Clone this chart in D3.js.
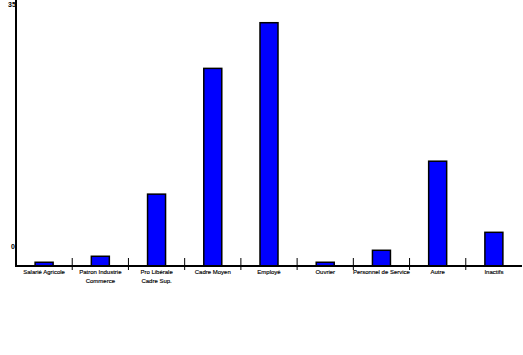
<!DOCTYPE html>
<html><head><meta charset="utf-8">
<script src="https://cdn.jsdelivr.net/npm/d3@7"></script>
<style>body{margin:0;background:#fff}svg{display:block}</style>
</head><body>
<script>
const categories = [["Salarié Agricole"],["Patron Industrie","Commerce"],["Pro Libérale","Cadre Sup."],["Cadre Moyen"],["Employé"],["Ouvrier"],["Personnel de Service"],["Autre"],["Inactifs"]];
const values = [0.5, 1.3, 9.6, 26.4, 32.5, 0.5, 2.1, 14.0, 4.5];
const yTickLabels = ["0", "35"];

(function(){
const W = 523, H = 355;
const svg = d3.select("body").append("svg").attr("width", W).attr("height", H);
const mLeft = 16, mRight = 522, mTop = 4, mBottom = 266;
const x = d3.scaleBand().domain(d3.range(categories.length)).range([mLeft, mRight]).paddingInner(0).paddingOuter(0);
const y = d3.scaleLinear().domain([0, 35]).range([mBottom, mTop]);

svg.selectAll("rect.bar").data(values).join("rect")
  .attr("x", (d,i) => x(i) + x.bandwidth()/2 - 9)
  .attr("width", 18)
  .attr("y", d => y(d))
  .attr("height", d => y(0) - y(d))
  .attr("fill", "#0000ff").attr("stroke", "#000").attr("stroke-width", 1.5);

svg.append("line").attr("x1", mLeft).attr("x2", mLeft).attr("y1", 0).attr("y2", mBottom+1)
  .attr("stroke", "#000").attr("stroke-width", 2);
svg.append("line").attr("x1", mLeft).attr("x2", mRight).attr("y1", mBottom).attr("y2", mBottom)
  .attr("stroke", "#000").attr("stroke-width", 2);

svg.selectAll("line.sep").data(d3.range(1, categories.length)).join("line")
  .attr("x1", i => x(i)).attr("x2", i => x(i))
  .attr("y1", mBottom - 8).attr("y2", mBottom + 4)
  .attr("stroke", "#000").attr("stroke-width", 1);

const lab = svg.selectAll("text.cat").data(categories).join("text")
  .attr("text-anchor", "middle")
  .attr("font-family", "Liberation Sans, Arial, sans-serif")
  .attr("font-size", 6)
  .attr("fill", "#000")
  .attr("stroke", "#000").attr("stroke-width", 0.15);
lab.each(function(lines, i){
  const t = d3.select(this);
  lines.forEach((s, k) => t.append("tspan").attr("x", x(i) + x.bandwidth()/2).attr("y", mBottom + 8 + k*9).text(s));
});

svg.append("text").attr("x", 13).attr("y", 249).attr("text-anchor", "middle")
  .attr("font-family", "Liberation Sans, Arial, sans-serif").attr("font-size", 7).attr("font-weight", "bold").text(yTickLabels[0]);
svg.append("text").attr("x", 12).attr("y", 7).attr("text-anchor", "middle")
  .attr("font-family", "Liberation Sans, Arial, sans-serif").attr("font-size", 7).attr("font-weight", "bold").text(yTickLabels[1]);
})();
</script>
</body></html>
